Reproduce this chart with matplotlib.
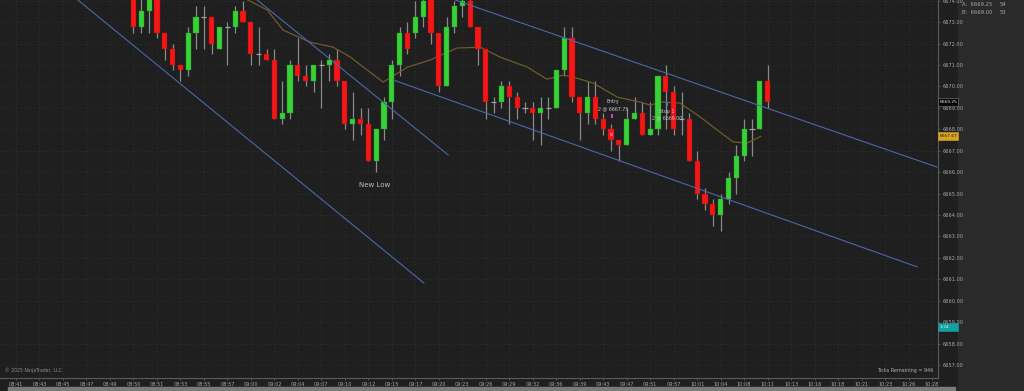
import matplotlib
matplotlib.use("Agg")
import matplotlib.pyplot as plt
from matplotlib.patches import Rectangle
from matplotlib.transforms import blended_transform_factory
import numpy as np

# --- donnees (barres en ticks, index 15..96) ---
bar_idx = list(range(15, 97))
opens = [6674.75, 6672.75, 6673.5, 6674.5, 6672.5, 6671.75, 6671.0, 6670.75, 6672.5, 6673.25,
         6673.25, 6671.75, 6672.75, 6672.75, 6673.5, 6673.0, 6671.5, 6671.5, 6671.25, 6668.5,
         6668.75, 6671.0, 6670.5, 6670.25, 6671.0, 6671.0, 6671.25, 6670.25, 6668.25, 6668.5,
         6668.25, 6666.5, 6668.0, 6669.25, 6671.0, 6672.5, 6672.5, 6673.25, 6674.25, 6672.5,
         6670.0, 6672.75, 6673.75, 6674.0, 6672.75, 6671.75, 6669.25, 6669.25, 6670.0, 6669.5,
         6669.0, 6669.0, 6668.75, 6669.0, 6669.0, 6670.75, 6672.25, 6669.5, 6668.75, 6669.5,
         6668.5, 6668.0, 6667.5, 6667.25, 6668.5, 6668.75, 6667.75, 6668.0, 6670.5, 6669.75,
         6668.5, 6668.5, 6666.5, 6665.0, 6664.5, 6664.0, 6664.75, 6665.75, 6666.75, 6668.0,
         6668.0, 6670.25]
highs = [6675.0, 6674.25, 6674.75, 6674.75, 6672.5, 6672.0, 6671.0, 6672.75, 6673.75, 6673.75,
         6673.25, 6672.75, 6673.0, 6673.75, 6674.0, 6673.0, 6672.75, 6671.75, 6671.75, 6670.25,
         6671.25, 6672.25, 6671.0, 6671.0, 6671.25, 6671.5, 6671.75, 6670.25, 6669.75, 6669.0,
         6669.0, 6668.0, 6669.5, 6671.25, 6672.75, 6673.0, 6674.0, 6674.25, 6674.5, 6672.5,
         6673.25, 6674.0, 6674.25, 6674.25, 6672.75, 6671.75, 6669.5, 6670.25, 6670.25, 6669.75,
         6669.25, 6669.25, 6669.5, 6669.5, 6670.75, 6672.75, 6672.75, 6669.5, 6670.25, 6670.25,
         6668.75, 6668.25, 6667.5, 6669.0, 6669.5, 6669.25, 6669.25, 6670.5, 6671.0, 6670.0,
         6669.75, 6668.75, 6667.0, 6665.25, 6664.75, 6665.0, 6666.0, 6667.25, 6668.5, 6668.5,
         6670.25, 6671.0]
lows = [6672.5, 6672.5, 6672.5, 6672.25, 6671.25, 6670.75, 6670.25, 6670.5, 6671.75, 6671.75,
        6671.5, 6671.75, 6671.0, 6672.5, 6673.0, 6671.0, 6671.0, 6671.25, 6668.5, 6668.25,
        6668.5, 6670.25, 6670.0, 6669.75, 6669.0, 6670.25, 6670.0, 6668.0, 6667.5, 6667.75,
        6666.5, 6666.0, 6667.5, 6668.5, 6670.5, 6671.5, 6672.25, 6672.75, 6672.0, 6669.75,
        6670.0, 6672.5, 6673.25, 6672.75, 6671.0, 6668.5, 6668.75, 6669.0, 6668.25, 6668.5,
        6668.75, 6667.5, 6667.25, 6668.5, 6669.0, 6670.5, 6669.25, 6667.5, 6668.25, 6668.25,
        6667.75, 6667.0, 6666.5, 6667.25, 6668.5, 6667.75, 6667.75, 6667.75, 6668.0, 6667.75,
        6667.75, 6666.5, 6664.75, 6664.25, 6663.5, 6663.25, 6664.5, 6665.0, 6666.5, 6666.75,
        6668.0, 6669.0]
closes = [6672.75, 6673.5, 6674.5, 6672.5, 6671.75, 6671.0, 6670.75, 6672.5, 6673.25, 6673.25,
          6672.0, 6672.75, 6672.75, 6673.5, 6673.0, 6671.5, 6671.5, 6671.25, 6668.5, 6668.75,
          6671.0, 6670.5, 6670.25, 6671.0, 6671.0, 6671.25, 6670.25, 6668.25, 6668.5, 6668.25,
          6666.5, 6668.0, 6669.25, 6671.0, 6672.5, 6671.75, 6673.25, 6674.0, 6672.5, 6670.0,
          6672.75, 6673.75, 6674.0, 6672.75, 6671.75, 6669.25, 6669.25, 6670.0, 6669.5, 6669.0,
          6669.0, 6668.75, 6669.0, 6669.0, 6670.75, 6672.25, 6669.5, 6668.75, 6669.5, 6668.5,
          6668.0, 6667.5, 6667.25, 6668.5, 6668.75, 6667.75, 6668.0, 6670.5, 6669.75, 6668.0,
          6668.5, 6666.5, 6665.0, 6664.5, 6664.0, 6664.75, 6665.75, 6666.75, 6668.0, 6668.0,
          6670.25, 6669.25]

# moyenne mobile (lue point par point)
sma_idx = [29.6, 32.1, 34.1, 37.5, 40.5, 42.7, 44.0, 46.9, 50.0, 52.9, 56.3, 59.3, 61.8,
           65.3, 67.8, 69.9, 71.1, 73.7, 76.8, 79.7, 81.0, 82.6, 84.8, 87.4, 89.9, 91.6,
           93.4, 95.1]
sma_val = [6674.03, 6673.56, 6672.63, 6672.07, 6671.83, 6671.37, 6671.0, 6670.2, 6670.9,
           6671.23, 6671.79, 6671.83, 6671.37, 6670.9, 6670.34, 6670.53, 6670.44, 6670.16,
           6669.5, 6669.27, 6669.13, 6669.27, 6669.22, 6668.57, 6667.87, 6667.41, 6667.36,
           6667.67]

# lignes de tendance (index, prix)
trend_lines = [
    ([7.9, 52.1], [6674.03, 6660.83]),
    ([30.8, 55.2], [6674.03, 6666.80]),
    ([56.1, 117.6], [6674.03, 6666.24]),
    ([48.2, 115.1], [6670.30, 6661.58]),
]

price_ticks = list(range(6657, 6675))
time_labels = ["08:41", "08:43", "08:45", "08:47", "08:49", "08:50", "08:51", "08:53",
               "08:55", "08:57", "09:00", "09:02", "09:04", "09:07", "09:10", "09:12",
               "09:15", "09:17", "09:20", "09:23", "09:26", "09:29", "09:32", "09:36",
               "09:39", "09:43", "09:47", "09:51", "09:57", "10:01", "10:04", "10:08",
               "10:11", "10:13", "10:16", "10:18", "10:21", "10:23", "10:26", "10:28"]
time_idx = [3 * k for k in range(len(time_labels))]

last_price = 6669.25
sma_last = 6667.67

# --- couleurs ---
bg = "#1f1f1f"
c_up = "#36d336"
c_dn = "#f51616"
c_wick = "#8a8a8a"
c_txt = "#a8a8a8"

W, H = 1024, 391
fig = plt.figure(figsize=(W / 100, H / 100), dpi=100, facecolor=bg)
ax = fig.add_axes([0, 13 / H, 938 / W, 378 / H])
ax.set_facecolor(bg)

# panneau de droite
fig.add_artist(Rectangle((958 / W, 0), 66 / W, 1, transform=fig.transFigure,
                         color="#2a2a2a", zorder=0))
# barre de defilement
fig.add_artist(Rectangle((8 / W, 0), 947 / W, 4 / H, transform=fig.transFigure,
                         color="#7a7a7a", zorder=1))

ax.set_xlim(-2.04, 117.75)
ax.set_ylim(6656.40, 6674.03)

# grille pointillee
ax.set_xticks(time_idx)
ax.set_xticklabels(time_labels)
ax.set_yticks(price_ticks)
ax.set_yticklabels([f"{p:.2f}" for p in price_ticks])
ax.yaxis.tick_right()
ax.grid(True, color="#353535", linestyle=(0, (1, 3)), linewidth=0.6)
ax.set_axisbelow(True)
ax.tick_params(axis="both", colors="#6a6a6a", labelcolor=c_txt, labelsize=3.6,
               length=1.5, width=0.5, pad=1.5)

for s in ["top", "left"]:
    ax.spines[s].set_visible(False)
for s in ["right", "bottom"]:
    ax.spines[s].set_color("#5a5a5a")
    ax.spines[s].set_linewidth(0.8)

# bougies
o = np.array(opens)
h = np.array(highs)
l = np.array(lows)
c = np.array(closes)
x = np.array(bar_idx)
ax.vlines(x, l, h, color=c_wick, linewidth=0.9, zorder=2)
up = c > o
dn = c < o
doji = c == o
ax.bar(x[up], c[up] - o[up], bottom=o[up], width=0.66, color=c_up,
       edgecolor="#2a8a2a", linewidth=0.3, zorder=3)
ax.bar(x[dn], o[dn] - c[dn], bottom=c[dn], width=0.66, color=c_dn,
       edgecolor="#a01010", linewidth=0.3, zorder=3)
ax.hlines(c[doji], x[doji] - 0.33, x[doji] + 0.33, color="#a0a0a0", linewidth=0.9, zorder=3)

# moyenne mobile
ax.plot(sma_idx, sma_val, color="#6e5a2c", linewidth=0.9, zorder=2.5)

# lignes de tendance
for xs, ys in trend_lines:
    ax.plot(xs, ys, color="#4a68a8", linewidth=0.8, zorder=4)

# annotations
ax.text(45.85, 6665.4, "New Low", color="#bdbdbd", fontsize=5, ha="center", va="center")
ax.text(76.2, 6669.3, "Entry", color="#c8c8c8", fontsize=3.4, ha="center", va="center")
ax.text(76.2, 6668.95, "2 @ 6667.75", color="#c8c8c8", fontsize=3.4, ha="center", va="center")
ax.plot([76.1], [6668.62], marker="|", color="#ff33ff", markersize=3, mew=1.3, zorder=5)
ax.plot([76.0], [6667.8], marker="x", color="#ff66cc", markersize=2, mew=0.7, zorder=5)
ax.text(83.1, 6668.85, "Stop 1", color="#c8c8c8", fontsize=3.4, ha="center", va="center")
ax.text(83.1, 6668.55, "2 @ 6669.00", color="#c8c8c8", fontsize=3.4, ha="center", va="center")
ax.plot([83.1], [6669.2], marker="|", color="#3a8ae0", markersize=3, mew=1.3, zorder=5)

ax.text(0.005, 0.012, "\u00a9 2025 NinjaTrader, LLC", transform=ax.transAxes,
        color="#8c8c8c", fontsize=3.3, ha="left", va="bottom")
ax.text(0.995, 0.012, "Ticks Remaining = 946", transform=ax.transAxes,
        color="#b0b0b0", fontsize=3.5, ha="right", va="bottom")

# etiquettes de prix sur l'axe
tr = blended_transform_factory(ax.transAxes, ax.transData)
x1 = 1.0
wbox = 20 / 938
hbox = 8 / 21.45
for price, txt, fc, tc in [(last_price, f"{last_price:.2f}", "#050505", "#e8e8e8"),
                           (sma_last, f"{sma_last:.2f}", "#d9a520", "#1a1a1a"),
                           (6658.78, "1:34", "#15a0a0", "#f0f0f0")]:
    ax.add_patch(Rectangle((x1, price - hbox / 2), wbox, hbox, transform=tr,
                           facecolor=fc, edgecolor="#808080" if fc == "#050505" else fc,
                           linewidth=0.4, clip_on=False, zorder=6))
    ax.text(x1 + 0.002, price, txt, transform=tr, color=tc, fontsize=3.2,
            ha="left", va="center", clip_on=False, zorder=7)

# panneau A / B
fig.text(962 / W, 1 - 5 / H, "A:  6669.25", color=c_txt, fontsize=3.8, va="center")
fig.text(1000 / W, 1 - 5 / H, "54", color=c_txt, fontsize=3.8, va="center")
fig.text(962 / W, 1 - 13 / H, "B:  6669.00", color=c_txt, fontsize=3.8, va="center")
fig.text(1000 / W, 1 - 13 / H, "53", color=c_txt, fontsize=3.8, va="center")

fig.savefig("out.png", dpi=100, facecolor=bg)
plt.close(fig)
